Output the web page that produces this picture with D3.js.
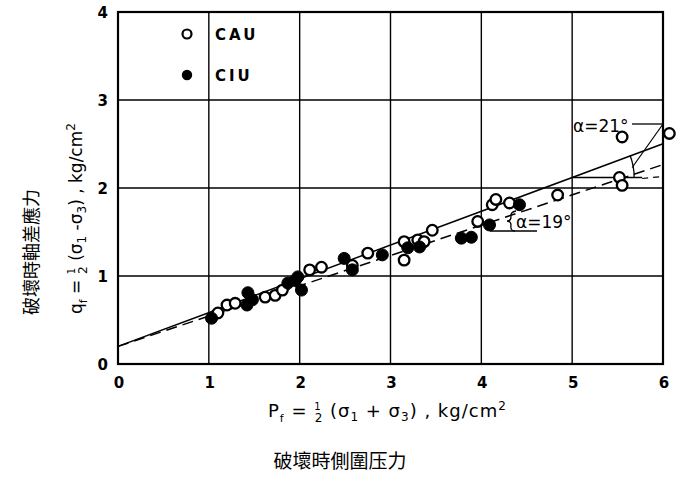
<!DOCTYPE html>
<html>
<head>
<meta charset="utf-8">
<script src="https://cdn.jsdelivr.net/npm/d3@7"></script>
<style>
  body { margin: 0; background: #fff; }
  text { font-family: "DejaVu Sans", sans-serif; fill: #000; }
</style>
</head>
<body>
<svg width="677" height="478"></svg>
<script>
// axis ticks
var xTicks = [0, 1, 2, 3, 4, 5, 6];
var yTicks = [0, 1, 2, 3, 4];

// CAU tests (open circles), p_f and q_f in kg/cm2
var cauP = [1.10, 1.20, 1.29, 1.62, 1.73, 1.81, 2.11, 2.24, 2.58, 2.75, 3.15, 3.30, 3.37, 3.46, 3.15, 3.96, 4.12, 4.16, 4.31, 4.84, 5.52, 5.55, 5.55, 6.07];
var cauQ = [0.58, 0.67, 0.69, 0.76, 0.78, 0.84, 1.07, 1.10, 1.12, 1.26, 1.39, 1.41, 1.39, 1.52, 1.18, 1.62, 1.81, 1.87, 1.83, 1.92, 2.12, 2.03, 2.58, 2.62];

// CIU tests (filled circles)
var ciuP = [1.03, 1.42, 1.43, 1.48, 1.87, 1.95, 1.98, 2.02, 2.49, 2.58, 2.91, 3.19, 3.32, 3.78, 3.89, 4.09, 4.42];
var ciuQ = [0.52, 0.67, 0.81, 0.73, 0.92, 0.95, 0.99, 0.84, 1.20, 1.07, 1.24, 1.32, 1.33, 1.43, 1.44, 1.58, 1.81];

// failure envelopes: q = a + p tan(alpha)
var envIntercept = 0.2;
var solidAlpha = 21;
var dashAlpha = 19;

var svg = d3.select("svg");
var x = d3.scaleLinear().domain([0, 6]).range([118, 663]);
var y = d3.scaleLinear().domain([0, 4]).range([364, 12]);

function env(alpha) {
  var t = Math.tan(alpha * Math.PI / 180);
  return function(p) { return envIntercept + p * t; };
}
var solidQ = env(solidAlpha), dashQ = env(dashAlpha);

// grid
var g = svg.append("g");
g.selectAll(".vg").data(xTicks).enter().append("line")
  .attr("x1", d => x(d)).attr("x2", d => x(d))
  .attr("y1", y(0)).attr("y2", y(4))
  .attr("stroke", "#000").attr("stroke-width", 1.4);
g.selectAll(".hg").data(yTicks).enter().append("line")
  .attr("x1", x(0)).attr("x2", x(6))
  .attr("y1", d => y(d)).attr("y2", d => y(d))
  .attr("stroke", "#000").attr("stroke-width", 1.4);
g.append("rect")
  .attr("x", x(0)).attr("y", y(4))
  .attr("width", x(6) - x(0)).attr("height", y(0) - y(4))
  .attr("fill", "none").attr("stroke", "#000").attr("stroke-width", 2.2);

// tick labels
svg.selectAll(".xt").data(xTicks).enter().append("text")
  .attr("x", d => x(d) + 1).attr("y", 388)
  .attr("text-anchor", "middle")
  .style("font-size", "15px").style("font-weight", "bold")
  .text(d => d);
svg.selectAll(".yt").data(yTicks).enter().append("text")
  .attr("x", 108).attr("y", d => y(d) + 6)
  .attr("text-anchor", "end")
  .style("font-size", "15px").style("font-weight", "bold")
  .text(d => d);

// envelope lines
svg.append("line")
  .attr("x1", x(0)).attr("y1", y(solidQ(0)))
  .attr("x2", x(6)).attr("y2", y(solidQ(6)))
  .attr("stroke", "#000").attr("stroke-width", 1.5);
svg.append("line")
  .attr("x1", x(0)).attr("y1", y(dashQ(0)))
  .attr("x2", x(6)).attr("y2", y(dashQ(6)))
  .attr("stroke", "#000").attr("stroke-width", 1.5)
  .attr("stroke-dasharray", "11,6");

// angle construction for alpha = 21
var ax = x(5), ay = y(solidQ(5));
svg.append("line")
  .attr("x1", ax).attr("y1", ay).attr("x2", ax + 70).attr("y2", ay)
  .attr("stroke", "#000").attr("stroke-width", 1.3);
svg.append("line")
  .attr("x1", ax + 70).attr("y1", ay + 1).attr("x2", x(6)).attr("y2", ay - 1)
  .attr("stroke", "#000").attr("stroke-width", 1.2).attr("stroke-dasharray", "6,5");
var r = 62, a1 = solidAlpha * Math.PI / 180;
svg.append("path")
  .attr("d", "M" + (ax + r) + "," + ay + " A" + r + "," + r + " 0 0,0 " +
    (ax + r * Math.cos(a1)) + "," + (ay - r * Math.sin(a1)))
  .attr("fill", "none").attr("stroke", "#000").attr("stroke-width", 1.3);
svg.append("line")
  .attr("x1", ax + r - 2).attr("y1", ay - 10).attr("x2", x(6)).attr("y2", 124)
  .attr("stroke", "#000").attr("stroke-width", 1.2);
svg.append("line")
  .attr("x1", 632).attr("y1", 124).attr("x2", x(6)).attr("y2", 124)
  .attr("stroke", "#000").attr("stroke-width", 1.3);
svg.append("text").attr("x", 573).attr("y", 132)
  .style("font-size", "17px").text("\u03b1=21\u00b0");

// angle note for alpha = 19
svg.append("line")
  .attr("x1", 490).attr("y1", 231).attr("x2", 537).attr("y2", 231)
  .attr("stroke", "#000").attr("stroke-width", 1.3);
svg.append("path")
  .attr("d", "M516,211 Q510,212 511,217 Q511,221 507,221 Q511,221 511,225 Q510,231 515,231")
  .attr("fill", "none").attr("stroke", "#000").attr("stroke-width", 1.3);
svg.append("text").attr("x", 516).attr("y", 228)
  .style("font-size", "17px").text("\u03b1=19\u00b0");

// data points
svg.selectAll(".cau").data(d3.range(cauP.length)).enter().append("circle")
  .attr("cx", i => x(cauP[i])).attr("cy", i => y(cauQ[i]))
  .attr("r", 5.3).attr("fill", "#fff").attr("stroke", "#000").attr("stroke-width", 2.3);
svg.selectAll(".ciu").data(d3.range(ciuP.length)).enter().append("circle")
  .attr("cx", i => x(ciuP[i])).attr("cy", i => y(ciuQ[i]))
  .attr("r", 6).attr("fill", "#000").attr("stroke", "#000").attr("stroke-width", 1);

// legend
svg.append("circle").attr("cx", 187).attr("cy", 34).attr("r", 4.5)
  .attr("fill", "#fff").attr("stroke", "#000").attr("stroke-width", 2.2);
svg.append("circle").attr("cx", 187).attr("cy", 75).attr("r", 5.2)
  .attr("fill", "#000");
svg.append("text").attr("x", 215).attr("y", 40)
  .style("font-size", "15px").style("font-weight", "bold").style("letter-spacing", "3px").text("CAU");
svg.append("text").attr("x", 215).attr("y", 81)
  .style("font-size", "15px").style("font-weight", "bold").style("letter-spacing", "3px").text("CIU");

// x axis title
var xt = svg.append("text").attr("x", 268).attr("y", 417)
  .style("font-size", "18px").style("letter-spacing", "1px");
xt.append("tspan").text("P");
xt.append("tspan").attr("dy", 5).style("font-size", "11px").text("f");
xt.append("tspan").attr("dy", -5).text(" = ");
xt.append("tspan").attr("dy", -7).style("font-size", "10px").text("1");
xt.append("tspan").attr("dx", -7).attr("dy", 12).style("font-size", "12px").text("2");
xt.append("tspan").attr("dy", -5).text(" (\u03c3");
xt.append("tspan").attr("dy", 4).style("font-size", "12px").text("1");
xt.append("tspan").attr("dy", -4).text(" + \u03c3");
xt.append("tspan").attr("dy", 4).style("font-size", "12px").text("3");
xt.append("tspan").attr("dy", -4).text(") , kg/cm");
xt.append("tspan").attr("dy", -7).style("font-size", "12px").text("2");

svg.append("text").attr("x", 340).attr("y", 468)
  .attr("text-anchor", "middle")
  .style("font-family", "'Noto Sans CJK TC', sans-serif")
  .style("font-size", "19px")
  .text("破壞時側圍压力");

// y axis title
var yt = svg.append("text")
  .attr("transform", "translate(82,314) rotate(-90)")
  .style("font-size", "17px");
yt.append("tspan").text("q");
yt.append("tspan").attr("dy", 5).style("font-size", "11px").text("f");
yt.append("tspan").attr("dy", -5).text(" = ");
yt.append("tspan").attr("dy", -7).style("font-size", "10px").text("1");
yt.append("tspan").attr("dx", -6).attr("dy", 12).style("font-size", "12px").text("2");
yt.append("tspan").attr("dy", -5).text(" (\u03c3");
yt.append("tspan").attr("dy", 4).style("font-size", "12px").text("1");
yt.append("tspan").attr("dy", -4).text(" -\u03c3");
yt.append("tspan").attr("dy", 4).style("font-size", "12px").text("3");
yt.append("tspan").attr("dy", -4).text(") , kg/cm");
yt.append("tspan").attr("dy", -7).style("font-size", "12px").text("2");

svg.append("text")
  .attr("transform", "translate(38,252) rotate(-90)")
  .attr("text-anchor", "middle")
  .style("font-family", "'Noto Sans CJK TC', sans-serif")
  .style("font-size", "18px")
  .text("破壞時軸差應力");
</script>
</body>
</html>
